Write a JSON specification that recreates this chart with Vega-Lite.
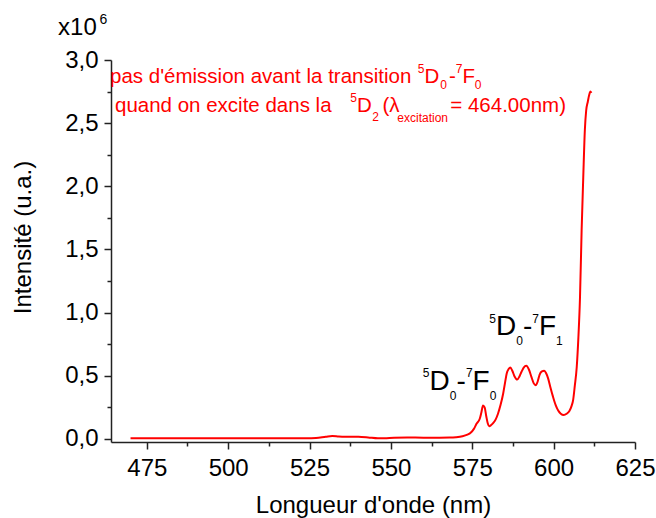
{
  "$schema": "https://vega.github.io/schema/vega-lite/v6.json",
  "width": 524,
  "height": 382,
  "autosize": {"type": "none"},
  "padding": {"left": 111, "top": 60, "right": 21, "bottom": 76},
  "background": "white",
  "config": {
    "view": {"stroke": null},
    "font": "Liberation Sans",
    "axis": {
      "grid": false,
      "labelFont": "Liberation Sans",
      "titleFont": "Liberation Sans",
      "labelFontSize": 24,
      "titleFontSize": 24,
      "titleFontWeight": "normal",
      "labelColor": "#000000",
      "titleColor": "#000000",
      "domainColor": "#222222",
      "tickColor": "#222222",
      "domainWidth": 1.5,
      "tickWidth": 1.5,
      "labelFlush": false,
      "labelOverlap": false,
      "labelBound": false
    }
  },
  "datasets": {
    "spectrum": [
      {"nm": 470, "i": 0.006}, {"nm": 480, "i": 0.006}, {"nm": 490, "i": 0.006}, {"nm": 500, "i": 0.006},
      {"nm": 510, "i": 0.006}, {"nm": 520, "i": 0.006}, {"nm": 524, "i": 0.005}, {"nm": 527, "i": 0.008},
      {"nm": 530, "i": 0.018}, {"nm": 532, "i": 0.024}, {"nm": 534, "i": 0.02}, {"nm": 536, "i": 0.018},
      {"nm": 540, "i": 0.017}, {"nm": 543, "i": 0.012}, {"nm": 546, "i": 0.005}, {"nm": 548, "i": 0.006},
      {"nm": 551, "i": 0.01}, {"nm": 555, "i": 0.012}, {"nm": 560, "i": 0.01}, {"nm": 565, "i": 0.01},
      {"nm": 568, "i": 0.011}, {"nm": 570, "i": 0.014}, {"nm": 572, "i": 0.022}, {"nm": 573.5, "i": 0.035},
      {"nm": 574.5, "i": 0.05}, {"nm": 575.5, "i": 0.08}, {"nm": 576.3, "i": 0.12}, {"nm": 577.3, "i": 0.16},
      {"nm": 577.8, "i": 0.21}, {"nm": 578.3, "i": 0.265}, {"nm": 578.8, "i": 0.25}, {"nm": 579.3, "i": 0.18},
      {"nm": 579.8, "i": 0.12}, {"nm": 580.2, "i": 0.1}, {"nm": 580.8, "i": 0.11}, {"nm": 581.4, "i": 0.125},
      {"nm": 582.2, "i": 0.155}, {"nm": 582.9, "i": 0.2}, {"nm": 583.7, "i": 0.27}, {"nm": 584.5, "i": 0.36},
      {"nm": 585.1, "i": 0.45}, {"nm": 585.6, "i": 0.52}, {"nm": 586.2, "i": 0.555}, {"nm": 586.7, "i": 0.565},
      {"nm": 587.3, "i": 0.54}, {"nm": 588, "i": 0.495}, {"nm": 588.8, "i": 0.47}, {"nm": 589.5, "i": 0.495},
      {"nm": 590.1, "i": 0.53}, {"nm": 590.8, "i": 0.565}, {"nm": 591.6, "i": 0.58}, {"nm": 592.4, "i": 0.55},
      {"nm": 593.2, "i": 0.49}, {"nm": 593.9, "i": 0.44}, {"nm": 594.5, "i": 0.425}, {"nm": 595.1, "i": 0.455},
      {"nm": 595.7, "i": 0.51}, {"nm": 596.4, "i": 0.535}, {"nm": 597.1, "i": 0.54}, {"nm": 597.7, "i": 0.52},
      {"nm": 598.3, "i": 0.48}, {"nm": 599, "i": 0.41}, {"nm": 599.8, "i": 0.335}, {"nm": 600.6, "i": 0.27},
      {"nm": 601.4, "i": 0.225}, {"nm": 602.2, "i": 0.2}, {"nm": 603.1, "i": 0.19}, {"nm": 604, "i": 0.2},
      {"nm": 604.8, "i": 0.22}, {"nm": 605.5, "i": 0.26}, {"nm": 606, "i": 0.31}, {"nm": 606.5, "i": 0.42},
      {"nm": 607.1, "i": 0.57}, {"nm": 607.6, "i": 0.8}, {"nm": 608.1, "i": 1.12}, {"nm": 608.6, "i": 1.65},
      {"nm": 609.1, "i": 2.07}, {"nm": 609.6, "i": 2.45}, {"nm": 610, "i": 2.6}, {"nm": 610.5, "i": 2.67},
      {"nm": 610.9, "i": 2.72}, {"nm": 611.3, "i": 2.75}, {"nm": 611.6, "i": 2.74}
    ],
    "notes": [
      {"nm": 463.69, "i": 2.818, "text": "pas d'émission avant la transition", "role": "note"},
      {"nm": 558.27, "i": 2.897, "text": "5", "role": "note-script"},
      {"nm": 560.32, "i": 2.818, "text": "D", "role": "note"},
      {"nm": 565.18, "i": 2.767, "text": "0", "role": "note-script"},
      {"nm": 567.85, "i": 2.818, "text": "-", "role": "note"},
      {"nm": 569.94, "i": 2.897, "text": "7", "role": "note-script"},
      {"nm": 571.99, "i": 2.818, "text": "F", "role": "note"},
      {"nm": 575.77, "i": 2.767, "text": "0", "role": "note-script"},
      {"nm": 465.23, "i": 2.588, "text": "quand on excite dans la", "role": "note"},
      {"nm": 537.54, "i": 2.668, "text": "5", "role": "note-script"},
      {"nm": 539.6, "i": 2.588, "text": "D", "role": "note"},
      {"nm": 544.3, "i": 2.517, "text": "2", "role": "note-script"},
      {"nm": 547.4, "i": 2.588, "text": "(λ", "role": "note"},
      {"nm": 551.97, "i": 2.509, "text": "excitation", "role": "note-script"},
      {"nm": 568.25, "i": 2.588, "text": "= 464.00nm)", "role": "note"},
      {"nm": 580.22, "i": 0.918, "text": "5", "role": "label-script"},
      {"nm": 582.28, "i": 0.823, "text": "D", "role": "label"},
      {"nm": 588.48, "i": 0.744, "text": "0", "role": "label-script"},
      {"nm": 590.6, "i": 0.823, "text": "-", "role": "label"},
      {"nm": 593.46, "i": 0.918, "text": "7", "role": "label-script"},
      {"nm": 595.51, "i": 0.823, "text": "F", "role": "label"},
      {"nm": 600.76, "i": 0.744, "text": "1", "role": "label-script"},
      {"nm": 559.8, "i": 0.491, "text": "5", "role": "label-script"},
      {"nm": 561.86, "i": 0.388, "text": "D", "role": "label"},
      {"nm": 568.06, "i": 0.309, "text": "0", "role": "label-script"},
      {"nm": 570.18, "i": 0.388, "text": "-", "role": "label"},
      {"nm": 573.04, "i": 0.491, "text": "7", "role": "label-script"},
      {"nm": 575.09, "i": 0.388, "text": "F", "role": "label"},
      {"nm": 580.38, "i": 0.309, "text": "0", "role": "label-script"},
      {"nm": 447.73, "i": 3.198, "text": "x10", "role": "unit"},
      {"nm": 460.47, "i": 3.285, "text": "6", "role": "unit-script"}
    ]
  },
  "layer": [
    {
      "data": {"name": "spectrum"},
      "mark": {"type": "line", "color": "#ff0000", "strokeWidth": 2, "interpolate": "monotone", "clip": true},
      "encoding": {
        "x": {
          "field": "nm", "type": "quantitative",
          "scale": {"domain": [464, 625], "nice": false, "zero": false},
          "axis": {
            "orient": "bottom",
            "values": [475, 500, 525, 550, 575, 600, 625],
            "tickSize": 7,
            "labelPadding": 7,
            "title": "Longueur d'onde (nm)",
            "titleX": 262,
            "titleY": 70,
            "titleAlign": "center",
            "titleBaseline": "alphabetic"
          }
        },
        "y": {
          "field": "i", "type": "quantitative",
          "scale": {"domain": [-0.024, 3.0], "nice": false, "zero": false},
          "axis": {
            "orient": "left",
            "values": [0, 0.5, 1, 1.5, 2, 2.5, 3],
            "format": ".1f",
            "labelExpr": "replace(datum.label, '.', ',')",
            "tickSize": 7,
            "labelPadding": 6,
            "title": "Intensité (u.a.)",
            "titleX": -81,
            "titleY": 177,
            "titleAngle": 270,
            "titleAlign": "center",
            "titleBaseline": "alphabetic"
          }
        }
      }
    },
    {
      "data": {"name": "notes"},
      "mark": {"type": "text", "align": "left", "baseline": "alphabetic", "font": "Liberation Sans"},
      "encoding": {
        "x": {
          "field": "nm", "type": "quantitative",
          "scale": {"domain": [464, 625], "nice": false, "zero": false},
          "axis": {
            "orient": "bottom",
            "values": [487.5, 512.5, 537.5, 562.5, 587.5, 612.5],
            "labels": false, "domain": false, "tickSize": 4, "title": null
          }
        },
        "y": {
          "field": "i", "type": "quantitative",
          "scale": {"domain": [-0.024, 3.0], "nice": false, "zero": false},
          "axis": {
            "orient": "left",
            "values": [0.25, 0.75, 1.25, 1.75, 2.25, 2.75],
            "labels": false, "domain": false, "tickSize": 4, "title": null
          }
        },
        "text": {"field": "text", "type": "nominal"},
        "color": {
          "field": "role", "type": "nominal", "legend": null,
          "scale": {
            "domain": ["note", "note-script", "label", "label-script", "unit", "unit-script"],
            "range": ["#ff0000", "#ff0000", "#000000", "#000000", "#000000", "#000000"]
          }
        },
        "size": {
          "field": "role", "type": "nominal", "legend": null,
          "scale": {
            "type": "ordinal",
            "domain": ["note", "note-script", "label", "label-script", "unit", "unit-script"],
            "range": [20.5, 12, 28, 12, 24, 14]
          }
        }
      }
    }
  ],
  "resolve": {"axis": {"x": "independent", "y": "independent"}}
}
